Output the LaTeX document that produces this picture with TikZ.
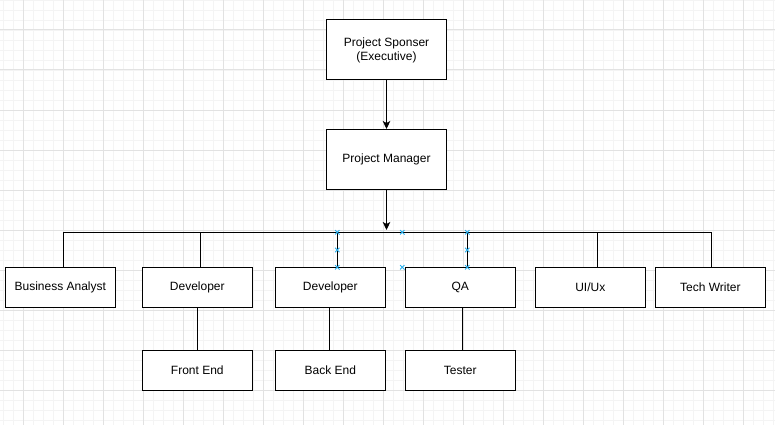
\documentclass[tikz,border=0pt]{standalone}
\usepackage{fontspec}
\setmainfont{Liberation Sans}
\usetikzlibrary{arrows.meta}
\definecolor{gridmajor}{RGB}{226,226,226}
\definecolor{gridminor}{RGB}{244,244,244}
\definecolor{handle}{RGB}{41,176,238}
\tikzset{
  box/.style={draw=black, line width=1pt, fill=white, rectangle, minimum width=110pt, minimum height=40pt, inner sep=0pt, font=\fontsize{12}{14}\selectfont, align=center},
  bigbox/.style={box, minimum width=120pt, minimum height=60pt},
  link/.style={draw=black, line width=1pt},
  arrowlink/.style={link, -{Stealth[length=8pt,width=7.5pt,inset=2pt]}},
  hmark/.style={draw=handle, line width=0.9pt}
}
\begin{document}
\begin{tikzpicture}[x=1pt,y=-1pt]
\useasboundingbox (0,0) rectangle (775,425);
\fill[white] (0,0) rectangle (775,425);
% grid
\foreach \k in {0,...,77} {\draw[gridminor, line width=0.8pt] (3.3+10*\k,0) -- (3.3+10*\k,425);}
\foreach \k in {0,...,42} {\draw[gridminor, line width=0.8pt] (0,10*\k) -- (775,10*\k);}
\foreach \k in {0,...,19} {\draw[gridmajor, line width=1pt] (23.3+40*\k,0) -- (23.3+40*\k,425);}
\foreach \k in {0,...,10} {\draw[gridmajor, line width=1pt] (0,30+40*\k) -- (775,30+40*\k);}

% nodes
\node[bigbox] (sp) at (386.5,50) {Project Sponser\\(Executive)};
\node[bigbox] (pm) at (386.5,159.5) {Project Manager};
\node[box] (ba) at (60.3,287.3) {Business Analyst};
\node[box] (dev1) at (197.3,287.3) {Developer};
\node[box] (dev2) at (330.3,287.3) {Developer};
\node[box] (qa) at (460.3,287.3) {QA};
\node[box] (ui) at (590.3,287.3) {UI/Ux};
\node[box] (tw) at (710.3,287.3) {Tech Writer};
\node[box] (fe) at (197.3,370.3) {Front End};
\node[box] (be) at (330.3,370.3) {Back End};
\node[box] (te) at (460.3,370.3) {Tester};

% bus coordinates
\coordinate (b1) at (63.3,232.3);
\coordinate (b2) at (200.3,232.3);
\coordinate (b3) at (337.3,232.3);
\coordinate (b4) at (467.3,232.3);
\coordinate (b5) at (597.3,232.3);
\coordinate (b6) at (711.7,232.3);
\coordinate (tip) at (386.5,230);

% connectors
\draw[arrowlink] (sp) -- (pm);
\draw[arrowlink] (pm) -- (tip);
\draw[link] (b1 |- ba.north) -- (b1) -- (b6) -- (b6 |- tw.north);
\draw[link] (b2) -- (b2 |- dev1.north);
\draw[link] (b3) -- (b3 |- dev2.north);
\draw[link] (b4) -- (b4 |- qa.north);
\draw[link] (b5) -- (b5 |- ui.north);
\draw[link] (dev1) -- (fe);
\draw[link] ([xshift=-1pt]dev2.south) -- ([xshift=-1pt]be.north);
\draw[link] ([xshift=2pt]qa.south) -- ([xshift=2pt]te.north);

% selection handles
\foreach \p in {(337.3,232.3),(337.3,250),(337.3,267.3),(402.3,232.3),(402.3,267.3),(467.3,232.3),(467.3,250),(467.3,267.3)} {
  \draw[hmark] \p ++(-2.2,-2.2) -- ++(4.4,4.4) \p ++(-2.2,2.2) -- ++(4.4,-4.4);
}
\end{tikzpicture}
\end{document}
